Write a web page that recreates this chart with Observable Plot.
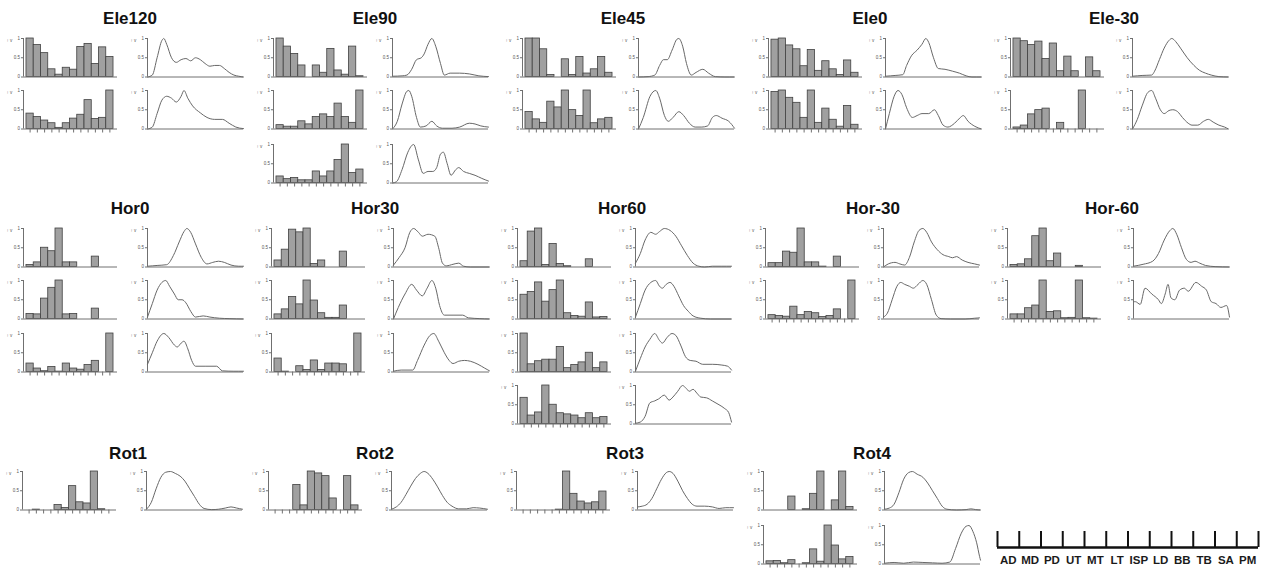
<!DOCTYPE html>
<html><head><meta charset="utf-8">
<script src="https://cdn.jsdelivr.net/npm/d3@7"></script>
<script src="https://cdn.jsdelivr.net/npm/@observablehq/plot@0.6"></script>
<style>
html,body{margin:0;padding:0;background:#fff;}
#chart{position:relative;width:1268px;height:571px;overflow:hidden;font-family:"Liberation Sans",Arial,sans-serif;}
#chart .title{position:absolute;font-weight:bold;font-size:17px;color:#111;transform:translate(-50%,-50%);white-space:nowrap;line-height:1;}
#chart svg{position:absolute;overflow:visible;}
</style></head><body><div id="chart"></div>
<script>
const categories = ["AD","MD","PD","UT","MT","LT","ISP","LD","BB","TB","SA","PM"];

// ---- Elevation ----
const ele120Bars = [
  [1.0,0.83,0.62,0.2,0.06,0.24,0.19,0.78,0.86,0.34,0.77,0.52],
  [0.4,0.31,0.22,0.15,0.03,0.15,0.27,0.37,0.75,0.26,0.29,1.0]
];
const ele120Curves = [
  [[0,0],[0.05,0.05],[0.1,0.5],[0.15,0.95],[0.17,1.0],[0.2,0.85],[0.25,0.5],[0.3,0.38],[0.35,0.45],[0.4,0.48],[0.45,0.42],[0.5,0.5],[0.55,0.45],[0.6,0.35],[0.65,0.28],[0.7,0.3],[0.75,0.3],[0.8,0.22],[0.85,0.12],[0.9,0.05],[0.95,0.02],[1,0]],
  [[0,0],[0.05,0.05],[0.1,0.4],[0.15,0.75],[0.2,0.85],[0.25,0.8],[0.3,0.7],[0.35,0.85],[0.38,1.0],[0.42,0.8],[0.47,0.6],[0.55,0.42],[0.62,0.3],[0.7,0.25],[0.78,0.25],[0.85,0.15],[0.92,0.05],[1,0.01]]
];
const ele90Bars = [
  [1.0,0.79,0.6,0.3,0,0.3,0.11,0.73,0.17,0.06,0.79,0.02],
  [0.1,0.06,0.06,0.2,0.12,0.31,0.38,0.31,0.66,0.31,0.16,1.0],
  [0.17,0.1,0.13,0.07,0.07,0.3,0.17,0.3,0.6,1.0,0.26,0.35]
];
const ele90Curves = [
  [[0,0.02],[0.1,0.03],[0.15,0.05],[0.2,0.2],[0.25,0.45],[0.3,0.5],[0.33,0.6],[0.37,0.85],[0.41,1.0],[0.45,0.8],[0.5,0.35],[0.54,0.05],[0.6,0.1],[0.7,0.1],[0.8,0.08],[0.9,0.03],[1,0.01]],
  [[0,0],[0.05,0.2],[0.1,0.65],[0.15,0.98],[0.17,1.0],[0.2,0.85],[0.25,0.3],[0.29,0.05],[0.35,0.08],[0.41,0.2],[0.46,0.08],[0.52,0.02],[0.62,0.02],[0.7,0.05],[0.8,0.15],[0.86,0.13],[0.92,0.08],[1,0.05]],
  [[0,0],[0.04,0.03],[0.1,0.35],[0.16,0.8],[0.22,1.0],[0.27,0.6],[0.32,0.25],[0.37,0.3],[0.42,0.3],[0.46,0.4],[0.5,0.75],[0.53,0.8],[0.57,0.5],[0.61,0.2],[0.66,0.35],[0.69,0.4],[0.74,0.3],[0.8,0.25],[0.86,0.2],[0.93,0.12],[1,0.05]]
];
const ele45Bars = [
  [1.0,1.0,0.72,0.05,0,0.46,0.05,0.52,0.09,0.2,0.52,0.11],
  [0.44,0.25,0.16,0.71,0.56,1.0,0.49,0.34,1.0,0.15,0.25,0.29]
];
const ele45Curves = [
  [[0,0],[0.1,0.01],[0.17,0.05],[0.22,0.3],[0.26,0.45],[0.3,0.45],[0.35,0.7],[0.4,0.98],[0.42,1.0],[0.46,0.8],[0.5,0.35],[0.55,0.05],[0.6,0.12],[0.67,0.2],[0.73,0.1],[0.8,0.01],[0.9,0],[1,0]],
  [[0,0],[0.05,0.3],[0.12,0.85],[0.18,1.0],[0.22,0.8],[0.27,0.35],[0.31,0.2],[0.36,0.3],[0.42,0.45],[0.47,0.35],[0.53,0.15],[0.59,0.05],[0.66,0.05],[0.72,0.08],[0.77,0.3],[0.81,0.35],[0.87,0.28],[0.94,0.2],[1,0.02]]
];
const ele0Bars = [
  [0.97,1.0,0.82,0.72,0.28,0.7,0.16,0.41,0.2,0.05,0.43,0.11],
  [0.96,1.0,0.81,0.68,0.29,1.0,0.16,0.53,0.24,0.06,0.6,0.11]
];
const ele0Curves = [
  [[0,0.02],[0.1,0.04],[0.18,0.06],[0.22,0.3],[0.27,0.55],[0.33,0.7],[0.38,0.85],[0.42,1.0],[0.45,0.9],[0.5,0.5],[0.55,0.22],[0.62,0.2],[0.7,0.15],[0.77,0.1],[0.84,0.03],[0.9,0],[1,0]],
  [[0,0],[0.04,0.4],[0.09,0.85],[0.13,1.0],[0.17,0.9],[0.22,0.55],[0.28,0.3],[0.33,0.35],[0.38,0.4],[0.45,0.4],[0.51,0.5],[0.55,0.35],[0.6,0.1],[0.65,0.05],[0.72,0.15],[0.78,0.3],[0.81,0.35],[0.86,0.2],[0.93,0.07],[1,0]]
];
const eleM30Bars = [
  [1.0,0.93,0.83,0.92,0.47,0.87,0.15,0.53,0.15,0,0.51,0.15],
  [0.04,0.09,0.38,0.49,0.53,0,0.16,0,0,1.0,0,0]
];
const eleM30Curves = [
  [[0,0.02],[0.1,0.04],[0.2,0.05],[0.23,0.15],[0.28,0.45],[0.33,0.75],[0.38,0.95],[0.41,1.0],[0.45,0.92],[0.5,0.75],[0.57,0.5],[0.64,0.3],[0.7,0.17],[0.76,0.1],[0.82,0.05],[0.9,0.01],[1,0]],
  [[0,0],[0.05,0.25],[0.1,0.6],[0.16,0.95],[0.2,1.0],[0.24,0.8],[0.29,0.5],[0.33,0.4],[0.38,0.48],[0.42,0.5],[0.47,0.45],[0.52,0.3],[0.58,0.15],[0.62,0.1],[0.68,0.1],[0.74,0.2],[0.79,0.25],[0.84,0.18],[0.9,0.1],[0.96,0.05],[1,0]]
];

// ---- Horizontal ----
const hor0Bars = [
  [0.05,0.12,0.5,0.41,1.0,0.12,0.12,0,0,0.27,0,0],
  [0.13,0.12,0.53,0.81,1.0,0.12,0.13,0,0,0.27,0,0],
  [0.22,0.09,0.02,0.13,0.01,0.22,0.09,0.06,0.18,0.29,0,1.0]
];
const hor0Curves = [
  [[0,0.02],[0.1,0.04],[0.2,0.06],[0.27,0.3],[0.33,0.65],[0.38,0.92],[0.41,1.0],[0.45,0.9],[0.5,0.6],[0.56,0.25],[0.62,0.08],[0.68,0.12],[0.74,0.15],[0.8,0.12],[0.87,0.05],[0.95,0.02],[1,0.02]],
  [[0,0.05],[0.05,0.4],[0.1,0.75],[0.15,0.95],[0.19,1.0],[0.23,0.85],[0.28,0.65],[0.32,0.5],[0.36,0.5],[0.4,0.42],[0.45,0.2],[0.5,0.05],[0.58,0.08],[0.65,0.05],[0.75,0.02],[0.85,0.01],[1,0]],
  [[0,0.2],[0.05,0.5],[0.1,0.8],[0.17,1.0],[0.22,0.9],[0.28,0.7],[0.31,0.65],[0.35,0.75],[0.38,0.8],[0.42,0.6],[0.46,0.3],[0.5,0.15],[0.6,0.15],[0.72,0.15],[0.78,0.03],[0.9,0.02],[1,0.02]]
];
const hor30Bars = [
  [0.17,0.45,0.97,0.9,1.0,0.08,0.17,0,0,0.4,0,0],
  [0.12,0.25,0.57,0.38,1.0,0.48,0.15,0.03,0.03,0.35,0,0],
  [0.35,0.01,0,0.15,0.05,0.3,0.05,0.22,0.22,0.2,0,1.0]
];
const hor30Curves = [
  [[0,0.05],[0.06,0.25],[0.12,0.5],[0.17,0.9],[0.21,1.0],[0.26,0.9],[0.3,0.8],[0.36,0.85],[0.43,0.8],[0.47,0.5],[0.51,0.1],[0.55,0.03],[0.62,0.07],[0.68,0.1],[0.73,0.02],[0.8,0],[1,0]],
  [[0,0],[0.05,0.3],[0.12,0.65],[0.19,0.9],[0.24,0.75],[0.3,0.6],[0.35,0.8],[0.4,1.0],[0.44,0.8],[0.48,0.35],[0.53,0.1],[0.62,0.1],[0.72,0.1],[0.78,0.03],[0.9,0.01],[1,0]],
  [[0,0.02],[0.08,0.05],[0.2,0.05],[0.25,0.3],[0.32,0.7],[0.38,0.95],[0.42,1.0],[0.47,0.8],[0.53,0.5],[0.58,0.3],[0.62,0.22],[0.68,0.28],[0.74,0.3],[0.8,0.28],[0.88,0.2],[0.95,0.1],[1,0.03]]
];
const hor60Bars = [
  [0.15,0.92,1.0,0.05,0.6,0.08,0.02,0,0,0.2,0,0],
  [0.63,0.7,0.95,0.45,0.75,1.0,0.15,0.08,0.06,0.43,0.04,0.05],
  [1.0,0.2,0.28,0.32,0.32,0.65,0.1,0.18,0.25,0.5,0.1,0.25],
  [0.68,0.22,0.3,1.0,0.5,0.28,0.25,0.22,0.15,0.28,0.15,0.18]
];
const hor60Curves = [
  [[0,0.1],[0.05,0.35],[0.1,0.7],[0.16,0.9],[0.21,0.85],[0.25,0.92],[0.3,1.0],[0.36,0.95],[0.42,0.8],[0.48,0.55],[0.54,0.3],[0.6,0.1],[0.66,0.02],[0.72,0],[0.8,0.02],[0.9,0.02],[1,0.02]],
  [[0,0.05],[0.05,0.4],[0.1,0.75],[0.16,0.95],[0.21,1.0],[0.25,0.85],[0.28,0.8],[0.32,0.9],[0.36,0.95],[0.4,0.85],[0.45,0.6],[0.5,0.35],[0.55,0.2],[0.6,0.08],[0.68,0.02],[0.78,0],[1,0]],
  [[0,0.02],[0.05,0.35],[0.1,0.65],[0.15,0.85],[0.2,1.0],[0.25,0.82],[0.28,0.75],[0.33,0.9],[0.38,1.0],[0.42,0.95],[0.47,0.7],[0.52,0.4],[0.57,0.3],[0.63,0.28],[0.7,0.2],[0.8,0.2],[0.9,0.18],[0.96,0.15],[1,0.05]],
  [[0,0.02],[0.05,0.05],[0.1,0.2],[0.15,0.55],[0.2,0.6],[0.24,0.65],[0.3,0.75],[0.35,0.62],[0.39,0.7],[0.44,0.85],[0.49,1.0],[0.53,0.92],[0.56,0.85],[0.6,0.9],[0.64,0.8],[0.68,0.7],[0.74,0.68],[0.8,0.6],[0.87,0.5],[0.93,0.4],[0.97,0.3],[1,0.05]]
];
const horM30Bars = [
  [0.1,0.1,0.4,0.37,1.0,0.12,0.12,0.01,0,0.27,0,0],
  [0.1,0.08,0.06,0.32,0.1,0.18,0.15,0.05,0.08,0.25,0,1.0]
];
const horM30Curves = [
  [[0,0],[0.05,0.08],[0.12,0.12],[0.17,0.08],[0.22,0.05],[0.27,0.25],[0.32,0.65],[0.37,0.95],[0.41,1.0],[0.45,0.9],[0.5,0.65],[0.56,0.45],[0.62,0.32],[0.68,0.27],[0.72,0.24],[0.76,0.27],[0.82,0.18],[0.88,0.12],[0.95,0.08],[1,0.05]],
  [[0,0.05],[0.04,0.15],[0.09,0.5],[0.14,0.85],[0.18,0.95],[0.22,0.9],[0.27,0.85],[0.31,0.8],[0.36,0.9],[0.41,1.0],[0.45,0.9],[0.5,0.5],[0.55,0.1],[0.6,0.01],[0.7,0],[0.85,0],[0.95,0.02],[1,0.03]]
];
const horM60Bars = [
  [0.05,0.07,0.2,0.8,1.0,0.15,0.35,0,0,0.03,0,0],
  [0.12,0.12,0.28,0.35,1.0,0.18,0.2,0.02,0.03,1.0,0.02,0.01]
];
const horM60Curves = [
  [[0,0.02],[0.1,0.07],[0.2,0.15],[0.26,0.35],[0.32,0.7],[0.38,0.95],[0.41,1.0],[0.45,0.85],[0.5,0.5],[0.55,0.2],[0.6,0.12],[0.64,0.15],[0.69,0.1],[0.75,0.04],[0.85,0.01],[1,0]],
  [[0,0.45],[0.02,0.45],[0.07,0.38],[0.12,0.8],[0.19,0.65],[0.26,0.5],[0.29,0.4],[0.33,0.65],[0.36,0.9],[0.39,0.55],[0.43,0.5],[0.48,0.75],[0.53,0.8],[0.57,0.72],[0.65,0.95],[0.71,0.85],[0.76,0.75],[0.81,0.45],[0.86,0.4],[0.91,0.3],[0.97,0.35],[1,0.05]]
];

// ---- Rotation ----
const rot1Bars = [[0,0.01,0,0,0.13,0.05,0.62,0.2,0.17,1.0,0.02,0]];
const rot1Curves = [
  [[0,0.02],[0.05,0.2],[0.1,0.55],[0.15,0.85],[0.2,0.98],[0.25,1.0],[0.3,0.95],[0.35,0.88],[0.4,0.75],[0.45,0.55],[0.5,0.35],[0.55,0.15],[0.6,0.04],[0.68,0.01],[0.75,0.02],[0.82,0.05],[0.88,0.08],[0.94,0.05],[1,0.02]]
];
const rot2Bars = [[0,0,0,0.65,0.12,1.0,0.95,0.88,0.3,0,0.88,0.12]];
const rot2Curves = [
  [[0,0.02],[0.05,0.08],[0.1,0.2],[0.15,0.4],[0.2,0.62],[0.25,0.82],[0.3,0.95],[0.34,1.0],[0.38,0.95],[0.43,0.8],[0.48,0.6],[0.53,0.38],[0.58,0.2],[0.63,0.1],[0.7,0.03],[0.78,0.03],[0.85,0.06],[0.92,0.05],[1,0.02]]
];
const rot3Bars = [[0,0,0,0,0,0.01,1.0,0.42,0.22,0.17,0.2,0.48]];
const rot3Curves = [
  [[0,0.08],[0.05,0.1],[0.1,0.15],[0.15,0.3],[0.2,0.55],[0.25,0.8],[0.3,0.97],[0.33,1.0],[0.37,0.95],[0.42,0.75],[0.47,0.5],[0.52,0.3],[0.57,0.15],[0.62,0.1],[0.7,0.1],[0.78,0.08],[0.85,0.04],[0.92,0.06],[1,0.06]]
];
const rot4Bars = [
  [0,0,0,0.35,0,0.02,0.42,1.0,0,0.25,1.0,0.08],
  [0.07,0.08,0.02,0.1,0,0.02,0.38,0.06,1.0,0.48,0.12,0.18]
];
const rot4Curves = [
  [[0,0.02],[0.05,0.05],[0.1,0.15],[0.15,0.45],[0.2,0.8],[0.25,0.97],[0.29,1.0],[0.34,0.93],[0.4,0.85],[0.45,0.7],[0.5,0.5],[0.55,0.3],[0.6,0.1],[0.65,0.02],[0.75,0],[0.85,0.01],[0.9,0.03],[0.95,0.01],[1,0]],
  [[0,0.02],[0.1,0.04],[0.2,0.02],[0.3,0.05],[0.4,0.04],[0.5,0.03],[0.6,0.02],[0.68,0.05],[0.74,0.4],[0.8,0.8],[0.85,0.98],[0.88,1.0],[0.92,0.85],[0.96,0.55],[0.99,0.2],[1,0.1]]
];

const groups = [
  {name:"Ele120", bars:ele120Bars, curves:ele120Curves, band:0, col:0},
  {name:"Ele90",  bars:ele90Bars,  curves:ele90Curves,  band:0, col:1},
  {name:"Ele45",  bars:ele45Bars,  curves:ele45Curves,  band:0, col:2},
  {name:"Ele0",   bars:ele0Bars,   curves:ele0Curves,   band:0, col:3},
  {name:"Ele-30", bars:eleM30Bars, curves:eleM30Curves, band:0, col:4},
  {name:"Hor0",   bars:hor0Bars,   curves:hor0Curves,   band:1, col:0},
  {name:"Hor30",  bars:hor30Bars,  curves:hor30Curves,  band:1, col:1},
  {name:"Hor60",  bars:hor60Bars,  curves:hor60Curves,  band:1, col:2},
  {name:"Hor-30", bars:horM30Bars, curves:horM30Curves, band:1, col:3},
  {name:"Hor-60", bars:horM60Bars, curves:horM60Curves, band:1, col:4},
  {name:"Rot1",   bars:rot1Bars,   curves:rot1Curves,   band:2, col:0},
  {name:"Rot2",   bars:rot2Bars,   curves:rot2Curves,   band:2, col:1},
  {name:"Rot3",   bars:rot3Bars,   curves:rot3Curves,   band:2, col:2},
  {name:"Rot4",   bars:rot4Bars,   curves:rot4Curves,   band:2, col:3}
];

// ---- layout ----
const histAxisX = [[23,273,522,768,1010],[23,271,517,765,1007],[22,268,516,763]];
const lineAxisX = [[147,392,638,885,1132],[147,393,635,883,1133],[146,391,637,884]];
const titleX    = [[130,375,623,870,1114],[130,375,622,873,1112],[128,375,625,872]];
const titleY    = [18,208,453];
const rowBase   = [[76,128.5,182],[266,318,371.5,423.5],[509.5,563]];

const ML = 20, MR = 4, MT = 3, MB = 9, PH = 38.5, HW = 94, LW = 96;
const barFill = "#a0a0a0", barStroke = "#404040", axisColor = "#707070", lineColor = "#686868";
const chart = document.getElementById("chart");

function place(svg, left, top) {
  svg.style.left = left + "px";
  svg.style.top = top + "px";
  chart.appendChild(svg);
}
const yAxis = () => Plot.axisY({ticks:[0,0.5,1], tickSize:2, tickPadding:1.5, fontSize:4.5,
  tickFormat: d => d === 0.5 ? "0.5" : String(d), stroke: axisColor, fill: "#555"});

function histPanel(vals, showTicks) {
  const data = vals.map((v, i) => ({cat: categories[i], i, v}));
  return Plot.plot({
    width: ML + HW + MR, height: MT + PH + MB,
    marginLeft: ML, marginRight: MR, marginTop: MT, marginBottom: MB,
    x: {domain: [-0.41, 12.55], axis: null},
    y: {domain: [0, 1], axis: null},
    style: {background: "transparent", fontFamily: "Liberation Sans, Arial, sans-serif", color: "#555"},
    marks: [
      Plot.rect(data, {x1: d => d.i, x2: d => d.i + 1, y1: 0, y2: "v", fill: barFill, stroke: barStroke, strokeWidth: 0.8}),
      Plot.ruleY([0], {stroke: axisColor, strokeWidth: 1}),
      Plot.ruleX([-0.41], {stroke: axisColor, strokeWidth: 1}),
      yAxis(),
      showTicks ? Plot.axisX({ticks: d3.range(12).map(i => i + 0.5), tickSize: 4, tickPadding: 0, tickFormat: () => "", stroke: axisColor}) : null
    ]
  });
}
function linePanel(pts) {
  const data = pts.map(([t, v]) => ({t, v}));
  return Plot.plot({
    width: ML + LW + MR, height: MT + PH + MB,
    marginLeft: ML, marginRight: MR, marginTop: MT, marginBottom: MB,
    x: {domain: [0, 1], axis: null},
    y: {domain: [0, 1], axis: null},
    style: {background: "transparent", fontFamily: "Liberation Sans, Arial, sans-serif", color: "#555"},
    marks: [
      Plot.ruleY([0], {stroke: axisColor, strokeWidth: 1}),
      Plot.ruleX([0], {stroke: axisColor, strokeWidth: 1}),
      Plot.lineY(data, {x: "t", y: "v", curve: "monotone-x", stroke: lineColor, strokeWidth: 1}),
      yAxis()
    ]
  });
}

for (const g of groups) {
  const t = document.createElement("div");
  t.className = "title";
  t.textContent = g.name;
  t.style.left = titleX[g.band][g.col] + "px";
  t.style.top = titleY[g.band] + "px";
  chart.appendChild(t);
  g.bars.forEach((vals, r) => {
    const base = rowBase[g.band][r];
    place(histPanel(vals, r === g.bars.length - 1), histAxisX[g.band][g.col] - ML, base - PH - MT);
    place(linePanel(g.curves[r]), lineAxisX[g.band][g.col] - ML, base - PH - MT);
  });
}

// ---- category legend ----
const legend = Plot.plot({
  width: 278, height: 46, marginLeft: 7, marginRight: 10, marginTop: 6, marginBottom: 24,
  x: {domain: [0, 12], axis: null},
  y: {domain: [0, 1], axis: null},
  style: {background: "transparent", fontFamily: "Liberation Sans, Arial, sans-serif", color: "#111"},
  marks: [
    Plot.ruleX(d3.range(13), {stroke: "#111", strokeWidth: 2}),
    Plot.ruleY([0], {stroke: "#111", strokeWidth: 2.5}),
    Plot.text(categories, {x: (d, i) => i + 0.5, y: 0, dy: 12.5, text: d => d, fontWeight: "bold", fontSize: 11.5, fill: "#1a1a1a"})
  ]
});
place(legend, 990, 525);
</script></body></html>
